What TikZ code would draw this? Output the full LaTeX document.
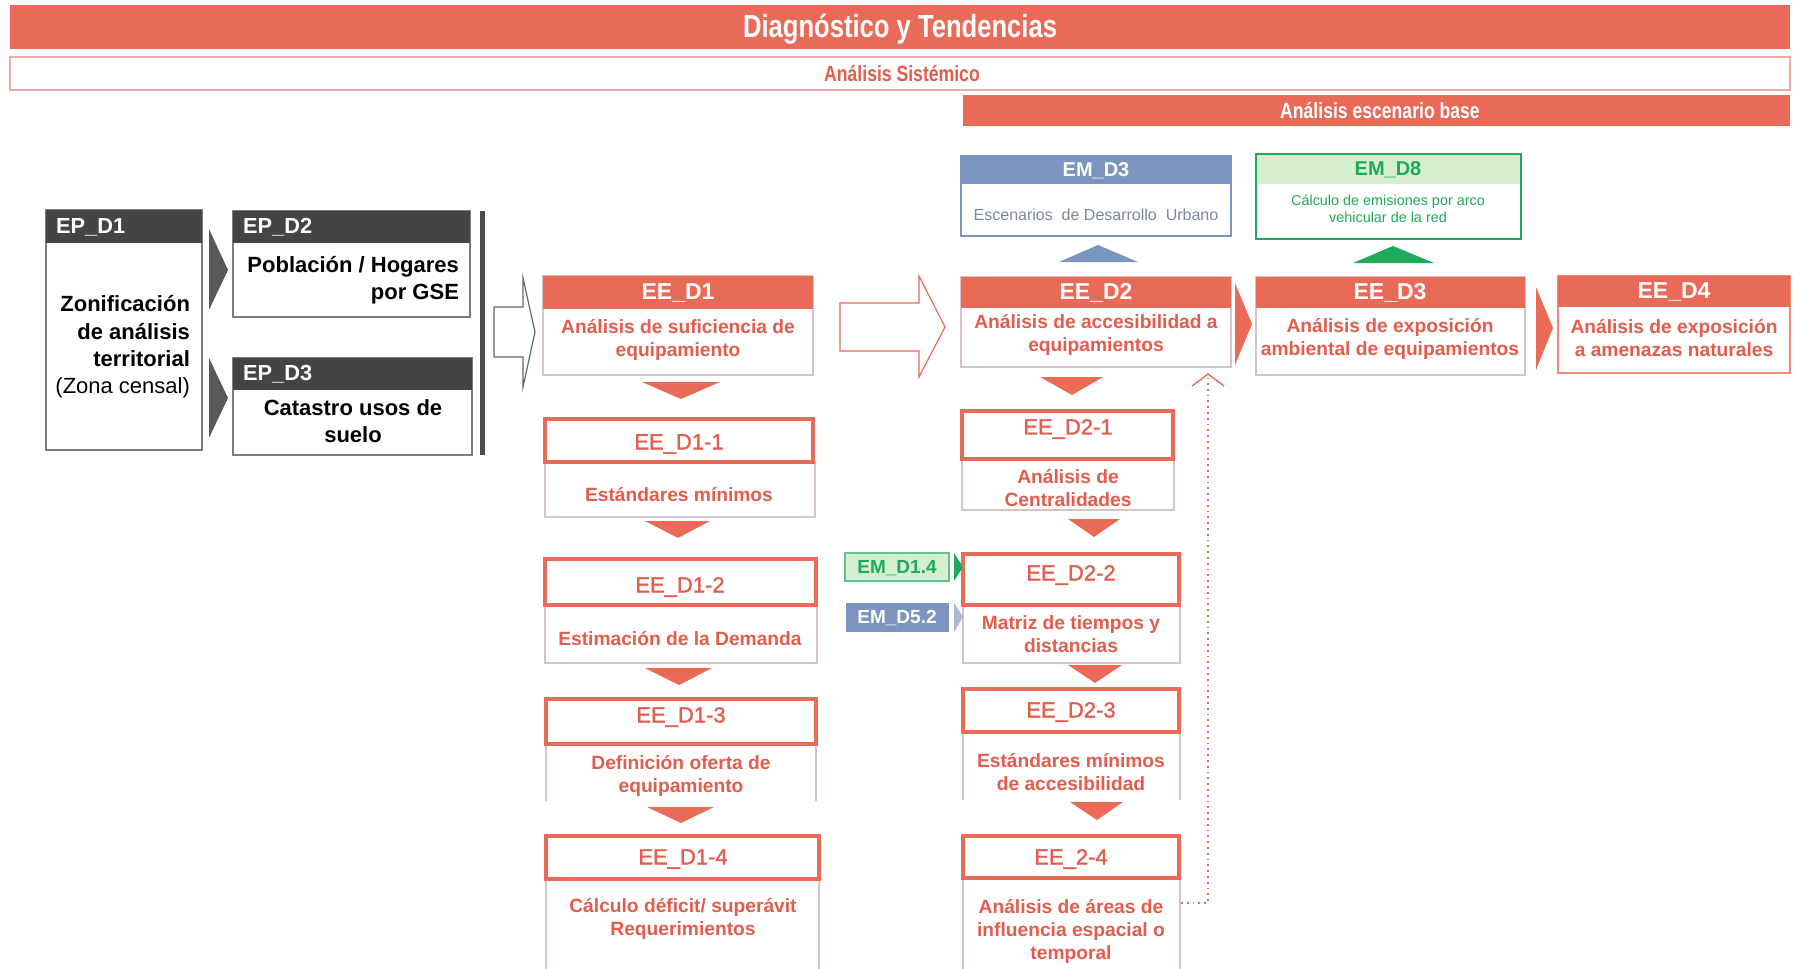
\documentclass[tikz,border=0pt]{standalone}
\usepackage{fontspec}
\setmainfont{Liberation Sans}
\newfontfamily\narrowfont[FakeStretch=0.8]{Liberation Sans}
\newfontfamily\semibold[FakeBold=1.3]{Liberation Sans}
\newcommand{\fsz}[2]{\fontsize{#1}{#2}\selectfont}
\definecolor{eered}{RGB}{234,106,88}
\definecolor{eetext}{RGB}{228,92,76}
\definecolor{darkhdr}{RGB}{68,68,68}
\definecolor{epline}{RGB}{125,125,125}
\definecolor{bluegray}{RGB}{124,149,190}
\definecolor{paleblue}{RGB}{170,185,210}
\definecolor{bluetext}{RGB}{125,135,160}
\definecolor{emgreen}{RGB}{30,170,90}
\definecolor{lightgreen}{RGB}{214,238,208}
\definecolor{thinline}{RGB}{215,195,195}
\definecolor{pinkline}{RGB}{235,170,170}
\tikzset{
  hdrtext/.style={text=white,font=\bfseries\fsz{11.5}{13}},
  bodytext/.style={text=eetext,font=\bfseries\fsz{9.6}{11.5},align=center},
  idtext/.style={text=eetext,font=\semibold\fsz{11}{13}},
  thickbox/.style={draw=eered,line width=2pt},
  thinbox/.style={draw=thinline,line width=0.6pt},
  tri/.style={fill=eered,draw=none},
  eptitle/.style={text=white,font=\bfseries\fsz{10.9}{13},anchor=west},
  eptext/.style={text=black,font=\bfseries\fsz{11}{13.6}},
}
\begin{document}
\begin{tikzpicture}[x=0.5pt,y=-0.5pt]
\useasboundingbox (0,0) rectangle (1800,969);
\fill[white] (0,0) rectangle (1800,969);

% Top banners
\fill[eered] (10,5) rectangle (1790,49);
\node[text=white,font=\narrowfont\bfseries\fsz{16}{18}] (title) at (900,29) {Diagnóstico y Tendencias};
\draw[draw=pinkline,line width=0.6pt] (10,57) rectangle (1790,90);
\node[text=eetext,font=\narrowfont\bfseries\fsz{11}{13}] (sist) at (902,74) {Análisis Sistémico};
\fill[eered] (963,95) rectangle (1790,126);
\node[text=white,font=\narrowfont\bfseries\fsz{11}{13}] (escb) at (1380,111) {Análisis escenario base};

% EP boxes
\draw[draw=epline,line width=1pt] (46,210) rectangle (202,450);
\fill[darkhdr] (46,210) rectangle (202,243);
\node[eptitle] (epd1) at (49,227) {EP\_D1};
\node[eptext,anchor=east,align=right] (epd1b) at (197,347) {Zonificación\\de análisis\\territorial\\\mdseries (Zona censal)};

\draw[draw=epline,line width=1pt] (233,211) rectangle (470,317);
\fill[darkhdr] (233,211) rectangle (470,243);
\node[eptitle] (epd2) at (236,227) {EP\_D2};
\node[eptext,anchor=east,align=right] (epd2b) at (466,280) {Población / Hogares\\por GSE};

\draw[draw=epline,line width=1pt] (233,358) rectangle (472,455);
\fill[darkhdr] (233,358) rectangle (472,390);
\node[eptitle] (epd3) at (236,374) {EP\_D3};
\node[eptext,align=center] (epd3b) at (353,421) {Catastro usos de\\suelo};

\fill[black!65] (209,229) -- (228,270) -- (209,310) -- cycle;
\fill[black!65] (209,358) -- (228,398) -- (209,438) -- cycle;
\fill[black!70] (480,211) rectangle (485,455);

% outline arrow 1
\draw[draw=black!60,fill=white,line width=0.6pt] (494,307) -- (523,307) -- (523,278) -- (535,332) -- (523,387) -- (523,357) -- (494,357) -- cycle;

% EE_D1 column
\draw[thinbox] (543,276) rectangle (813,375);
\fill[eered] (543,276) rectangle (813,309);
\node[hdrtext] (eed1) at (678,293) {EE\_D1};
\node[bodytext] (eed1b) at (678,340) {Análisis de suficiencia de\\equipamiento};
\fill[eered] (642,382) -- (720,382) -- (681,399) -- cycle;

\draw[thinbox] (545,462) rectangle (815,517);
\draw[thickbox] (545,419) rectangle (813,462);
\node[idtext] (eed11) at (679,444) {EE\_D1-1};
\node[bodytext] (eed11b) at (679,495) {Estándares mínimos};
\fill[eered] (645,521) -- (710,521) -- (678,538) -- cycle;

\draw[thinbox] (545,605) rectangle (817,663);
\draw[thickbox] (545,559) rectangle (816,605);
\node[idtext] (eed12) at (680,587) {EE\_D1-2};
\node[bodytext] (eed12b) at (680,639) {Estimación de la Demanda};
\fill[eered] (645,668) -- (712,668) -- (679,685) -- cycle;

\draw[thinbox] (546,745) -- (546,801) (816,745) -- (816,801);
\draw[thickbox] (546,699) rectangle (816,744);
\node[idtext] (eed13) at (681,717) {EE\_D1-3};
\node[bodytext] (eed13b) at (681,776) {Definición oferta de\\equipamiento};
\fill[eered] (647,807) -- (714,807) -- (681,823) -- cycle;

\draw[thinbox] (546,880) -- (546,969) (819,880) -- (819,969);
\draw[thickbox] (546,836) rectangle (819,879);
\node[idtext] (eed14) at (683,859) {EE\_D1-4};
\node[bodytext] (eed14b) at (683,919) {Cálculo déficit/ superávit\\Requerimientos};

% outline arrow 2
\draw[draw=eered,fill=white,line width=0.6pt] (840,303) -- (919,303) -- (919,276) -- (945,327) -- (919,377) -- (919,351) -- (840,351) -- cycle;

% EM_D3
\draw[draw=bluegray,line width=0.8pt,fill=white] (961,156) rectangle (1231,236);
\fill[bluegray] (961,156) rectangle (1231,184);
\node[text=white,font=\bfseries\fsz{10}{12}] (emd3) at (1096,171) {EM\_D3};
\node[text=bluetext,font=\fsz{8}{10}] (emd3b) at (1096,215) {Escenarios\ \ de Desarrollo\ \ Urbano};
\fill[bluegray] (1059,262) -- (1138,262) -- (1098,245) -- cycle;

% EM_D8
\draw[draw=emgreen,line width=1.3pt,fill=white] (1256,154) rectangle (1521,239);
\fill[lightgreen] (1257,155) rectangle (1520,184);
\node[text=emgreen,font=\bfseries\fsz{10}{12}] (emd8) at (1388,170) {EM\_D8};
\node[text=emgreen,font=\fsz{7.2}{8.6},align=center] (emd8b) at (1388,209) {Cálculo de emisiones por arco\\vehicular de la red};
\fill[emgreen] (1353,263) -- (1434,263) -- (1393,246) -- cycle;

% EE_D2
\draw[thinbox] (961,277) rectangle (1231,367);
\fill[eered] (961,277) rectangle (1231,308);
\node[hdrtext] (eed2) at (1096,293) {EE\_D2};
\node[bodytext] (eed2b) at (1096,335) {Análisis de accesibilidad a\\equipamientos};
\fill[eered] (1040,377) -- (1103,377) -- (1072,395) -- cycle;

% EE_D3
\fill[eered] (1235,283) -- (1252,324) -- (1235,365) -- cycle;
\draw[thinbox] (1256,277) rectangle (1525,375);
\fill[eered] (1256,277) rectangle (1525,308);
\node[hdrtext] (eed3) at (1390,293) {EE\_D3};
\node[bodytext] (eed3b) at (1390,339) {Análisis de exposición\\ambiental de equipamientos};

% EE_D4
\fill[eered] (1536,287) -- (1553,328) -- (1536,370) -- cycle;
\draw[draw=eered!80,line width=0.6pt] (1558,276) rectangle (1790,373);
\fill[eered] (1558,276) rectangle (1790,307);
\node[hdrtext] (eed4) at (1674,292) {EE\_D4};
\node[bodytext] (eed4b) at (1674,338) {Análisis de exposición\\a amenazas naturales};

% EE_D2 column
\draw[thinbox] (962,459) rectangle (1174,510);
\draw[thickbox] (962,411) rectangle (1173,459);
\node[idtext] (eed21) at (1068,429) {EE\_D2-1};
\node[bodytext] (eed21b) at (1068,488) {Análisis de\\Centralidades};
\fill[eered] (1068,519) -- (1120,519) -- (1094,537) -- cycle;

\draw[thinbox] (963,605) rectangle (1180,663);
\draw[thickbox] (963,554) rectangle (1179,605);
\node[idtext] (eed22) at (1071,575) {EE\_D2-2};
\node[bodytext] (eed22b) at (1071,634) {Matriz de tiempos y\\distancias};
\fill[eered] (1068,665) -- (1122,665) -- (1095,683) -- cycle;

\draw[draw=emgreen!70,fill=lightgreen,line width=0.6pt] (845,553) rectangle (949,581);
\node[text=emgreen,font=\bfseries\fsz{9.5}{11}] (emd14) at (897,568) {EM\_D1.4};
\fill[emgreen] (954,553) -- (963,567) -- (954,581) -- cycle;
\fill[bluegray] (846,603) rectangle (949,632);
\node[text=white,font=\bfseries\fsz{9.5}{11}] (emd52) at (897,618) {EM\_D5.2};
\fill[paleblue] (954,603) -- (963,617) -- (954,632) -- cycle;

\draw[thinbox] (963,733) -- (963,800) (1180,733) -- (1180,800);
\draw[thickbox] (963,689) rectangle (1179,732);
\node[idtext] (eed23) at (1071,712) {EE\_D2-3};
\node[bodytext] (eed23b) at (1071,772) {Estándares mínimos\\de accesibilidad};
\fill[eered] (1070,802) -- (1123,802) -- (1097,820) -- cycle;

\draw[thinbox] (963,878) -- (963,969) (1180,878) -- (1180,969);
\draw[thickbox] (963,836) rectangle (1179,878);
\node[idtext] (ee24) at (1071,859) {EE\_2-4};
\node[bodytext] (ee24b) at (1071,931) {Análisis de áreas de\\influencia espacial o\\temporal};

% dotted feedback connector
\coordinate (dA) at (1181,903);
\coordinate (dB) at (1208,378);
\draw[eered,dotted,line width=0.9pt] (dA) -| (dB);
\draw[eered,line width=0.7pt] (1192,386) -- (1208,374) -- (1224,386);
\end{tikzpicture}
\end{document}
